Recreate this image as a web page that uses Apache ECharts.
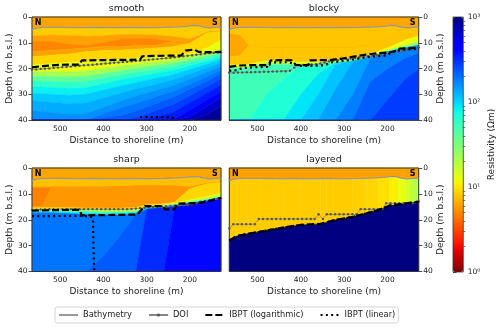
<!DOCTYPE html>
<html>
<head>
<meta charset="utf-8">
<script src="https://cdn.jsdelivr.net/npm/echarts@6/dist/echarts.min.js"></script>
<style>
html, body { margin: 0; padding: 0; background: #fff; }
#chart { width: 500px; height: 328px; }
</style>
</head>
<body>
<div id="chart"></div>
<script>
// values (distance in m, depth in m b.s.l., resistivity as log10)
const panelTitles = ['smooth', 'blocky', 'sharp', 'layered']
const distTicks = [200, 300, 400, 500]
const cbarTicks = [1, 10, 100, 1000]
const cbarMinor = [2, 3, 4, 5, 6, 7, 8, 9, 20, 30, 40, 50, 60, 70, 80, 90, 200, 300, 400, 500, 600, 700, 800, 900]
const cbarLabels = { 1: '10⁰', 10: '10¹', 100: '10²', 1000: '10³' }

const bathyX = [565, 555, 540, 500, 460, 420, 380, 340, 300, 260, 230, 210, 195, 180, 168, 155, 140, 128]
const bathyD = [4.9, 4.3, 4.0, 4.0, 4.1, 4.0, 4.1, 4.0, 4.1, 4.0, 3.8, 3.6, 3.3, 3.3, 3.9, 4.2, 4.0, 3.9]
const waterLevels = [0.8, 0.8, 0.8, 0.78]

// smooth model: colour bands (log10 rho) and the depths between them
const smoothXs = [565, 520, 480, 440, 400, 360, 320, 280, 240, 200, 160, 128]
const smoothLevels = [0.92, 0.78, 0.70, 0.78, 0.95, 1.1, 1.35, 1.6, 1.78, 1.92, 2.03, 2.12, 2.2, 2.28, 2.36, 2.45, 2.55, 2.68, 2.8, 2.93]
const smoothBounds = [
    [7.3, 7.0, 7.2, 7.5, 7.3, 6.8, 6.8, 7.0, 7.5, 8.5, 6.0, 5.5],
    [9.5, 9.5, 10.5, 11.0, 10.0, 8.5, 8.3, 8.5, 9.5, 9.5, 6.0, 5.5],
    [13.5, 13.0, 12.5, 12.0, 11.5, 11.5, 11.0, 11.0, 9.5, 9.5, 6.0, 5.5],
    [15.4, 14.8, 14.3, 13.5, 13.0, 12.8, 12.5, 12.0, 11.5, 10.2, 6.0, 5.5],
    [18.6, 18.0, 17.5, 17.2, 16.8, 16.3, 15.8, 15.3, 14.8, 14.0, 12.0, 9.0],
    [21.2, 21.2, 21.3, 20.9, 19.9, 18.9, 18.1, 17.4, 16.7, 15.3, 13.9, 12.7],
    [22.9, 23.1, 23.2, 22.9, 21.9, 20.8, 19.8, 18.8, 17.9, 16.5, 15.0, 13.8],
    [24.8, 25.0, 25.3, 25.0, 23.7, 22.4, 21.3, 20.3, 19.2, 17.6, 16.0, 14.6],
    [27.0, 27.3, 27.6, 27.3, 25.8, 24.3, 23.1, 21.9, 20.7, 18.9, 17.1, 15.5],
    [29.5, 29.9, 30.3, 29.9, 28.3, 26.7, 25.3, 23.8, 22.4, 20.3, 18.2, 16.5],
    [32.4, 33.0, 33.6, 33.3, 31.4, 29.5, 27.7, 26.1, 24.4, 22.1, 19.7, 17.8],
    [36.2, 37.0, 37.7, 37.3, 34.9, 32.5, 30.3, 28.5, 26.6, 24.0, 21.3, 19.2],
    [40, 40, 40, 40, 37.5, 35.2, 33.2, 31.0, 28.9, 26.0, 23.0, 20.6],
    [40, 40, 40, 40, 39.0, 38.1, 36.2, 33.7, 31.2, 28.0, 24.8, 22.0],
    [40, 40, 40, 40, 40, 40, 38.8, 36.3, 34.0, 30.5, 26.9, 23.9],
    [40, 40, 40, 40, 40, 40, 40, 38.7, 37.0, 33.2, 29.3, 26.2],
    [40, 40, 40, 40, 40, 40, 40, 40, 40, 36.0, 31.9, 28.8],
    [40, 40, 40, 40, 40, 40, 40, 40, 40, 38.6, 34.6, 31.2],
    [40, 40, 40, 40, 40, 40, 40, 40, 40, 40, 37.8, 34.5]
]

const blockyXs = [565, 540, 520, 480, 440, 400, 360, 320, 280, 240, 200, 160, 128]
const blockyLevels = [0.9, 0.8, 0.9, 1.1, 1.4, 1.72, 1.84, 1.95, 2.05, 2.15, 2.25, 2.35, 2.45]
const blockyBounds = [
    [6.5, 7.0, 11, 12, 12, 12, 12, 12, 12, 11, 9, 7, 6],
    [15.5, 15.0, 11, 12, 12, 12, 12, 12, 12, 11, 9, 7, 6],
    [18.6, 18.5, 18.3, 17.0, 17.0, 17.5, 17.3, 16.8, 16.2, 14.5, 12.0, 9.0, 7.5],
    [19.3, 19.2, 19.0, 17.8, 17.8, 18.2, 17.8, 17.3, 16.6, 15.0, 13.0, 11.0, 9.5],
    [20.0, 19.9, 19.7, 18.5, 18.5, 18.8, 18.3, 17.8, 17.0, 15.4, 13.5, 12.0, 11.0],
    [40, 40, 40, 30, 24, 18.8, 18.3, 17.8, 17.0, 15.4, 13.5, 12.0, 11.0],
    [40, 40, 40, 40, 40, 30, 22, 17.8, 17.0, 15.4, 13.5, 12.0, 11.0],
    [40, 40, 40, 40, 40, 40, 30, 18.5, 17.0, 15.4, 13.5, 12.0, 11.0],
    [40, 40, 40, 40, 40, 40, 40, 28, 17.5, 15.4, 13.5, 12.0, 11.0],
    [40, 40, 40, 40, 40, 40, 40, 40, 30, 16.0, 13.8, 12.2, 11.2],
    [40, 40, 40, 40, 40, 40, 40, 40, 40, 25, 20, 16, 14],
    [40, 40, 40, 40, 40, 40, 40, 40, 40, 40, 32, 24, 20]
]

const sharpXs = [565, 540, 520, 480, 440, 400, 360, 325, 300, 260, 235, 200, 160, 128]
const sharpLevels = [0.88, 0.68, 0.75, 0.95, 1.15, 1.6, 1.95, 2.28, 2.36, 2.5, 2.62]
const sharpBounds = [
    [7.4, 7.4, 7.4, 7.4, 7.4, 7.4, 7.2, 7.0, 7.0, 7.0, 7.0, 7.5, 6.0, 5.5],
    [15.0, 14.8, 7.4, 7.4, 7.4, 7.4, 7.2, 7.0, 7.0, 7.0, 7.0, 7.5, 6.0, 5.5],
    [15.3, 15.3, 15.3, 15.3, 15.5, 15.5, 15.5, 15.3, 14.2, 13.8, 13.2, 8.0, 6.0, 5.5],
    [15.8, 15.8, 15.8, 15.8, 16.0, 16.2, 16.2, 16.0, 14.7, 14.2, 13.6, 12.3, 11.0, 9.5],
    [16.2, 16.2, 16.2, 16.3, 16.5, 16.8, 16.8, 16.6, 15.1, 14.6, 14.0, 13.0, 12.0, 10.8],
    [16.8, 16.8, 16.8, 17.0, 17.3, 17.5, 17.5, 17.2, 15.6, 15.0, 14.4, 13.4, 12.4, 11.3],
    [17.3, 17.3, 17.3, 17.6, 18.0, 18.2, 18.2, 17.8, 16.0, 15.4, 14.8, 13.8, 12.8, 11.7],
    [40, 40, 40, 40, 40, 34, 26, 17.8, 16.0, 15.4, 14.8, 13.8, 12.8, 11.7],
    [40, 40, 40, 40, 40, 40, 40, 40, 16.0, 15.4, 14.8, 13.8, 12.8, 11.7],
    [40, 40, 40, 40, 40, 40, 40, 40, 40, 40, 14.8, 13.8, 12.8, 11.7]
]

const layeredXs = [565, 549, 526, 496, 457, 432, 400, 355, 340, 325, 280, 249, 220, 195, 175, 157, 142, 128]
const layeredTopLevels = [0.92, 0.92, 0.92, 0.92, 0.92, 0.92, 0.92, 0.92, 0.92, 0.92, 0.93, 0.95, 0.98, 1.03, 1.1, 1.2, 1.3]
const layeredLevels = [layeredTopLevels, 3.0]
const layeredBounds = [
    [28.0, 26.4, 25.5, 24.7, 23.5, 22.8, 22.0, 21.6, 21.0, 20.2, 18.9, 17.5, 16.2, 14.5, 14.1, 13.7, 13.3, 13.0]
]

// depth of investigation
const doiX = [565, 555, 545, 535, 525, 515, 505, 495, 485, 475, 465, 455, 445, 435, 425, 415, 405, 395, 385, 375, 365, 355, 345,
    335, 325, 315, 305, 295, 285, 275, 265, 255, 245, 235, 225, 215, 205, 195, 185, 175, 165, 155, 145, 135, 128]
const smoothDoiD = [20.4, 20.3, 20.1, 20.0, 19.9, 19.7, 19.6, 19.4, 19.3, 19.2, 19.0, 18.9, 18.7, 18.6, 18.5, 18.3, 18.2, 18.0, 17.9, 17.7, 17.6, 17.4, 17.3,
    17.2, 17.0, 16.9, 16.7, 16.6, 16.4, 16.3, 16.1, 16.0, 15.8, 15.6, 15.4, 15.2, 15.0, 14.8, 14.6, 14.4, 14.2, 14.0, 13.9, 13.8, 13.7]
const blockyDoiD = [21.6, 21.6, 21.5, 21.5, 21.4, 21.4, 21.3, 21.3, 21.2, 21.2, 21.1, 21.1, 21.0, 21.0, 20.8, 19.6, 18.7, 18.6, 18.5, 18.4, 18.3, 18.0, 17.6,
    17.2, 16.9, 16.7, 16.5, 16.3, 16.1, 15.9, 15.6, 15.4, 15.2, 14.9, 14.7, 14.4, 14.1, 13.8, 13.5, 13.2, 12.9, 12.6, 12.3, 12.0, 11.8]
const sharpDoiD = [16.2, 16.1, 16.0, 16.0, 15.9, 15.9, 15.9, 15.9, 15.9, 15.9, 15.9, 15.9, 15.9, 15.9, 15.9, 15.9, 15.9, 15.9, 15.9, 15.9, 15.9, 15.9, 15.9,
    15.8, 15.7, 15.5, 15.4, 15.2, 15.1, 15.0, 14.9, 14.8, 14.7, 14.6, 14.5, 14.4, 14.3, 14.0, 13.6, 13.1, 12.8, 12.5, 12.2, 11.9, 11.8]
const layeredDoiX = [565, 556, 546, 536, 526, 516, 506, 497, 487, 477, 467, 457, 447, 437, 427, 417, 407, 397, 387, 377, 368, 359, 349,
    340, 331, 321, 311, 301, 291, 281, 271, 262, 252, 242, 232, 222, 212, 203, 193, 183, 173, 163, 153, 143, 135, 128]
const layeredDoiD = [23.4, 21.7, 21.7, 21.7, 21.7, 21.7, 21.7, 19.7, 19.7, 19.7, 19.7, 19.7, 19.7, 19.7, 19.7, 19.7, 19.7, 19.7, 19.7, 19.7, 19.7, 17.9, 19.7,
    17.9, 17.9, 17.9, 17.9, 17.9, 17.9, 17.9, 17.9, 15.9, 15.9, 15.9, 15.9, 15.9, 15.9, 13.6, 13.6, 13.6, 13.6, 13.6, 13.6, 13.6, 13.3, 12.9]

// interface boundary picking threshold (IBPT)
const smoothLogX = [565, 540, 500, 455, 450, 400, 350, 315, 310, 260, 220, 210, 190, 180, 160, 128]
const smoothLogD = [19.5, 19.0, 18.5, 18.4, 16.8, 16.7, 16.6, 16.5, 15.2, 15.0, 14.9, 13.0, 12.6, 13.5, 13.6, 13.5]
const smoothLinX = [315, 300, 280, 260, 245, 236, 234]
const smoothLinD = [38.8, 38.7, 38.8, 38.8, 38.8, 39.4, 40]
const blockyLogX = [565, 545, 510, 472, 470, 440, 421, 412, 398, 382, 379, 350, 333, 302, 255, 225, 186, 171, 128]
const blockyLogD = [19.3, 18.8, 18.6, 18.6, 16.8, 16.7, 16.8, 18.5, 18.6, 18.6, 16.8, 16.7, 16.7, 16.0, 14.7, 14.1, 13.5, 12.2, 11.9]
const blockyLinX = [565, 548, 535, 510, 478, 472, 430, 418, 408, 380, 345, 330, 300, 262, 240, 200, 190, 160, 128]
const blockyLinD = [20.8, 20.6, 19.8, 19.5, 19.3, 17.6, 17.5, 18.0, 18.9, 18.9, 18.7, 17.6, 17.0, 16.0, 15.4, 14.8, 13.4, 12.6, 12.3]
const sharpLogX = [565, 520, 480, 455, 450, 400, 360, 322, 304, 262, 258, 235, 230, 177, 150, 128]
const sharpLogD = [16.5, 16.3, 16.2, 16.2, 18.3, 18.2, 18.1, 18.0, 14.7, 14.7, 16.0, 16.0, 13.8, 13.5, 12.5, 11.5]
const sharpLinX = [565, 520, 480, 450, 430, 424, 423, 421]
const sharpLinD = [18.6, 18.6, 18.5, 18.5, 18.7, 19.6, 30, 40]
const layeredLogX = [565, 549, 526, 496, 457, 432, 400, 355, 340, 325, 280, 249, 220, 195, 157, 128]
const layeredLogD = [28.0, 26.4, 25.5, 24.7, 23.5, 22.8, 22.0, 21.6, 21.0, 20.2, 18.9, 17.5, 16.2, 14.5, 13.7, 13.0]

const FONT = 'DejaVu Sans'
const INK = '#222'

// matplotlib jet, sampled for the colour scale (reversed: low resistivity = red)
function jet(v) {
    const seg = (pts) => {
        for (let i = 1; i < pts.length; i++) {
            if (v <= pts[i][0]) {
                const [x0, y0] = pts[i - 1], [x1, y1] = pts[i]
                return y0 + (y1 - y0) * (v - x0) / (x1 - x0)
            }
        }
        return pts[pts.length - 1][1]
    }
    const r = seg([[0, 0], [0.35, 0], [0.66, 1], [0.89, 1], [1, 0.5]])
    const g = seg([[0, 0], [0.125, 0], [0.375, 1], [0.64, 1], [0.91, 0], [1, 0]])
    const b = seg([[0, 0.5], [0.11, 1], [0.34, 1], [0.65, 0], [1, 0]])
    return 'rgb(' + [r, g, b].map(c => Math.round(c * 255)).join(',') + ')'
}
const jetR = []
for (let i = 0; i <= 60; i++) jetR.push(jet(1 - i / 60))

function bandPolys(xs, levels, bounds, water) {
    const polys = []
    const n = levels.length
    for (let k = 0; k < n; k++) {
        const top = k === 0 ? xs.map(() => 0) : bounds[k - 1]
        const bot = k === n - 1 ? xs.map(() => 40) : bounds[k]
        const L = levels[k]
        if (Array.isArray(L)) {
            for (let i = 0; i < xs.length - 1; i++) {
                polys.push({ L: L[i], pts: [[xs[i], top[i]], [xs[i + 1], top[i + 1]], [xs[i + 1], bot[i + 1]], [xs[i], bot[i]]] })
            }
        } else {
            const pts = xs.map((x, i) => [x, top[i]]).concat(xs.map((x, i) => [x, bot[i]]).reverse())
            polys.push({ L, pts })
        }
    }
    // sea water above the bathymetry
    polys.push({ L: water, pts: bathyX.map(x => [x, 0]).concat(bathyX.map((x, i) => [x, bathyD[i]]).reverse()) })
    return polys
}

const panels = [
    { xs: smoothXs, levels: smoothLevels, bounds: smoothBounds, doiX, doiD: smoothDoiD, logX: smoothLogX, logD: smoothLogD, linX: smoothLinX, linD: smoothLinD },
    { xs: blockyXs, levels: blockyLevels, bounds: blockyBounds, doiX, doiD: blockyDoiD, logX: blockyLogX, logD: blockyLogD, linX: blockyLinX, linD: blockyLinD },
    { xs: sharpXs, levels: sharpLevels, bounds: sharpBounds, doiX, doiD: sharpDoiD, logX: sharpLogX, logD: sharpLogD, linX: sharpLinX, linD: sharpLinD },
    { xs: layeredXs, levels: layeredLevels, bounds: layeredBounds, doiX: layeredDoiX, doiD: layeredDoiD, logX: layeredLogX, logD: layeredLogD, linX: layeredLogX, linD: layeredLogD }
]

const boxes = [[32, 17, 189, 103.3], [229.3, 17, 189.4, 103.3], [32, 168, 189, 103.5], [229.3, 168, 189.4, 103.5]]
const pair = (X, D) => X.map((x, i) => [x, D[i]])

const grids = boxes.map(b => ({ left: b[0], top: b[1], width: b[2], height: b[3], show: true, borderColor: '#333', borderWidth: 1, z: 3 }))
grids.push({ left: 453, top: 17, width: 10.3, height: 255, show: true, borderColor: '#333', borderWidth: 0.8, z: 10 })

const xAxes = boxes.map((b, i) => ({
    gridIndex: i, type: 'value', min: 128, max: 565, inverse: true,
    axisLine: { show: false }, splitLine: { show: false },
    axisTick: { customValues: distTicks, length: 3.5, lineStyle: { color: INK, width: 0.8 } },
    axisLabel: { customValues: distTicks, fontSize: 7.5, color: INK, margin: 4.5, fontFamily: FONT },
    name: 'Distance to shoreline (m)', nameLocation: 'middle', nameGap: 16,
    nameTextStyle: { fontSize: 9, color: INK, fontFamily: FONT }
}))
xAxes.push({ gridIndex: 4, type: 'value', min: 0, max: 1, show: false })

const yAxes = boxes.map((b, i) => ({
    gridIndex: i, type: 'value', min: 0, max: 40, interval: 10, inverse: true,
    position: i % 2 ? 'right' : 'left',
    axisLine: { show: false }, splitLine: { show: false },
    axisTick: { length: 3.5, lineStyle: { color: INK, width: 0.8 } },
    axisLabel: { fontSize: 7.5, color: INK, margin: 4.5, fontFamily: FONT },
    name: 'Depth (m b.s.l.)', nameLocation: 'middle', nameRotate: 90, nameGap: 16,
    nameTextStyle: { fontSize: 9, color: INK, fontFamily: FONT }
}))
yAxes.push({
    gridIndex: 4, type: 'log', logBase: 10, min: 1, max: 1000, position: 'right',
    axisLine: { show: false }, splitLine: { show: false },
    axisTick: { customValues: cbarTicks, length: 3.5, lineStyle: { color: INK, width: 0.8 } },
    axisLabel: { customValues: cbarTicks, formatter: v => cbarLabels[v] || '', fontSize: 7.5, color: INK, margin: 4.5, fontFamily: FONT },
    name: 'Resistivity (Ωm)', nameLocation: 'middle', nameRotate: 90, nameGap: 24,
    nameTextStyle: { fontSize: 9, color: INK, fontFamily: FONT }
})
yAxes.push({
    gridIndex: 4, type: 'log', logBase: 10, min: 1, max: 1000, position: 'right',
    axisLine: { show: false }, splitLine: { show: false },
    axisTick: { customValues: cbarMinor, length: 2, lineStyle: { color: INK, width: 0.6 } },
    axisLabel: { show: false }
})

const series = []
panels.forEach((p, i) => {
    const polys = bandPolys(p.xs, p.levels, p.bounds, waterLevels[i])
    series.push({
        type: 'custom', xAxisIndex: i, yAxisIndex: i, z: 1, silent: true,
        data: polys.map((q, j) => [j, q.L]),
        renderItem: (params, api) => {
            const q = polys[params.dataIndex]
            const c = api.visual('color')
            return {
                type: 'polygon',
                shape: { points: q.pts.map(pt => api.coord(pt)) },
                style: { fill: c, stroke: c, lineWidth: 0.5 }
            }
        }
    })
})
const NOSYM = 'rgba(0,0,0,0)'
panels.forEach((p, i) => {
    series.push({
        name: 'Bathymetry', type: 'line', xAxisIndex: i, yAxisIndex: i, z: 4,
        data: pair(bathyX, bathyD), symbol: 'none',
        lineStyle: { color: '#999', width: 1.3 }, itemStyle: { color: NOSYM }
    })
    series.push({
        name: 'DOI', type: 'line', xAxisIndex: i, yAxisIndex: i, z: 4,
        data: pair(p.doiX, p.doiD), symbol: 'circle', symbolSize: 2.4,
        lineStyle: { color: '#888', width: 0.8 }, itemStyle: { color: '#555' }
    })
    series.push({
        name: 'IBPT (logarithmic)', type: 'line', xAxisIndex: i, yAxisIndex: i, z: 5,
        data: pair(p.logX, p.logD), symbol: 'none',
        lineStyle: { color: '#000', width: 2.2, type: [7, 3] }, itemStyle: { color: NOSYM }
    })
    series.push({
        name: 'IBPT (linear)', type: 'line', xAxisIndex: i, yAxisIndex: i, z: 5,
        data: pair(p.linX, p.linD), symbol: 'none',
        lineStyle: { color: '#000', width: 2.2, type: [2, 3.3] }, itemStyle: { color: NOSYM }
    })
})

const graphic = []
boxes.forEach((b, i) => {
    graphic.push({ type: 'text', x: b[0] + b[2] / 2, y: b[1] - 8, style: { text: panelTitles[i], fontSize: 9.5, fill: INK, align: 'center', verticalAlign: 'middle', fontFamily: FONT } })
    graphic.push({ type: 'text', x: b[0] + 6, y: b[1] + 6, z: 20, style: { text: 'N', fontSize: 8, fontWeight: 'bold', fill: '#000', align: 'center', verticalAlign: 'middle', fontFamily: FONT } })
    graphic.push({ type: 'text', x: b[0] + b[2] - 6, y: b[1] + 6, z: 20, style: { text: 'S', fontSize: 8, fontWeight: 'bold', fill: '#000', align: 'center', verticalAlign: 'middle', fontFamily: FONT } })
})

const chart = echarts.init(document.getElementById('chart'), null, { renderer: 'canvas' })
chart.setOption({
    animation: false,
    backgroundColor: '#fff',
    grid: grids,
    xAxis: xAxes,
    yAxis: yAxes,
    visualMap: {
        type: 'continuous', min: 0, max: 3, dimension: 1, seriesIndex: [0, 1, 2, 3],
        inRange: { color: jetR }, left: 453, top: 17, itemWidth: 10.3, itemHeight: 255,
        padding: 0, text: null, calculable: false, hoverLink: false
    },
    legend: {
        data: ['Bathymetry', 'DOI', 'IBPT (logarithmic)', 'IBPT (linear)'],
        left: 55, top: 307, itemWidth: 19, itemHeight: 4, itemGap: 16,
        padding: [4, 3], borderColor: '#ccc', borderWidth: 0.8, borderRadius: 2,
        selectedMode: false,
        textStyle: { fontSize: 8.3, color: INK, fontFamily: FONT }
    },
    graphic,
    series
})
</script>
</body>
</html>
